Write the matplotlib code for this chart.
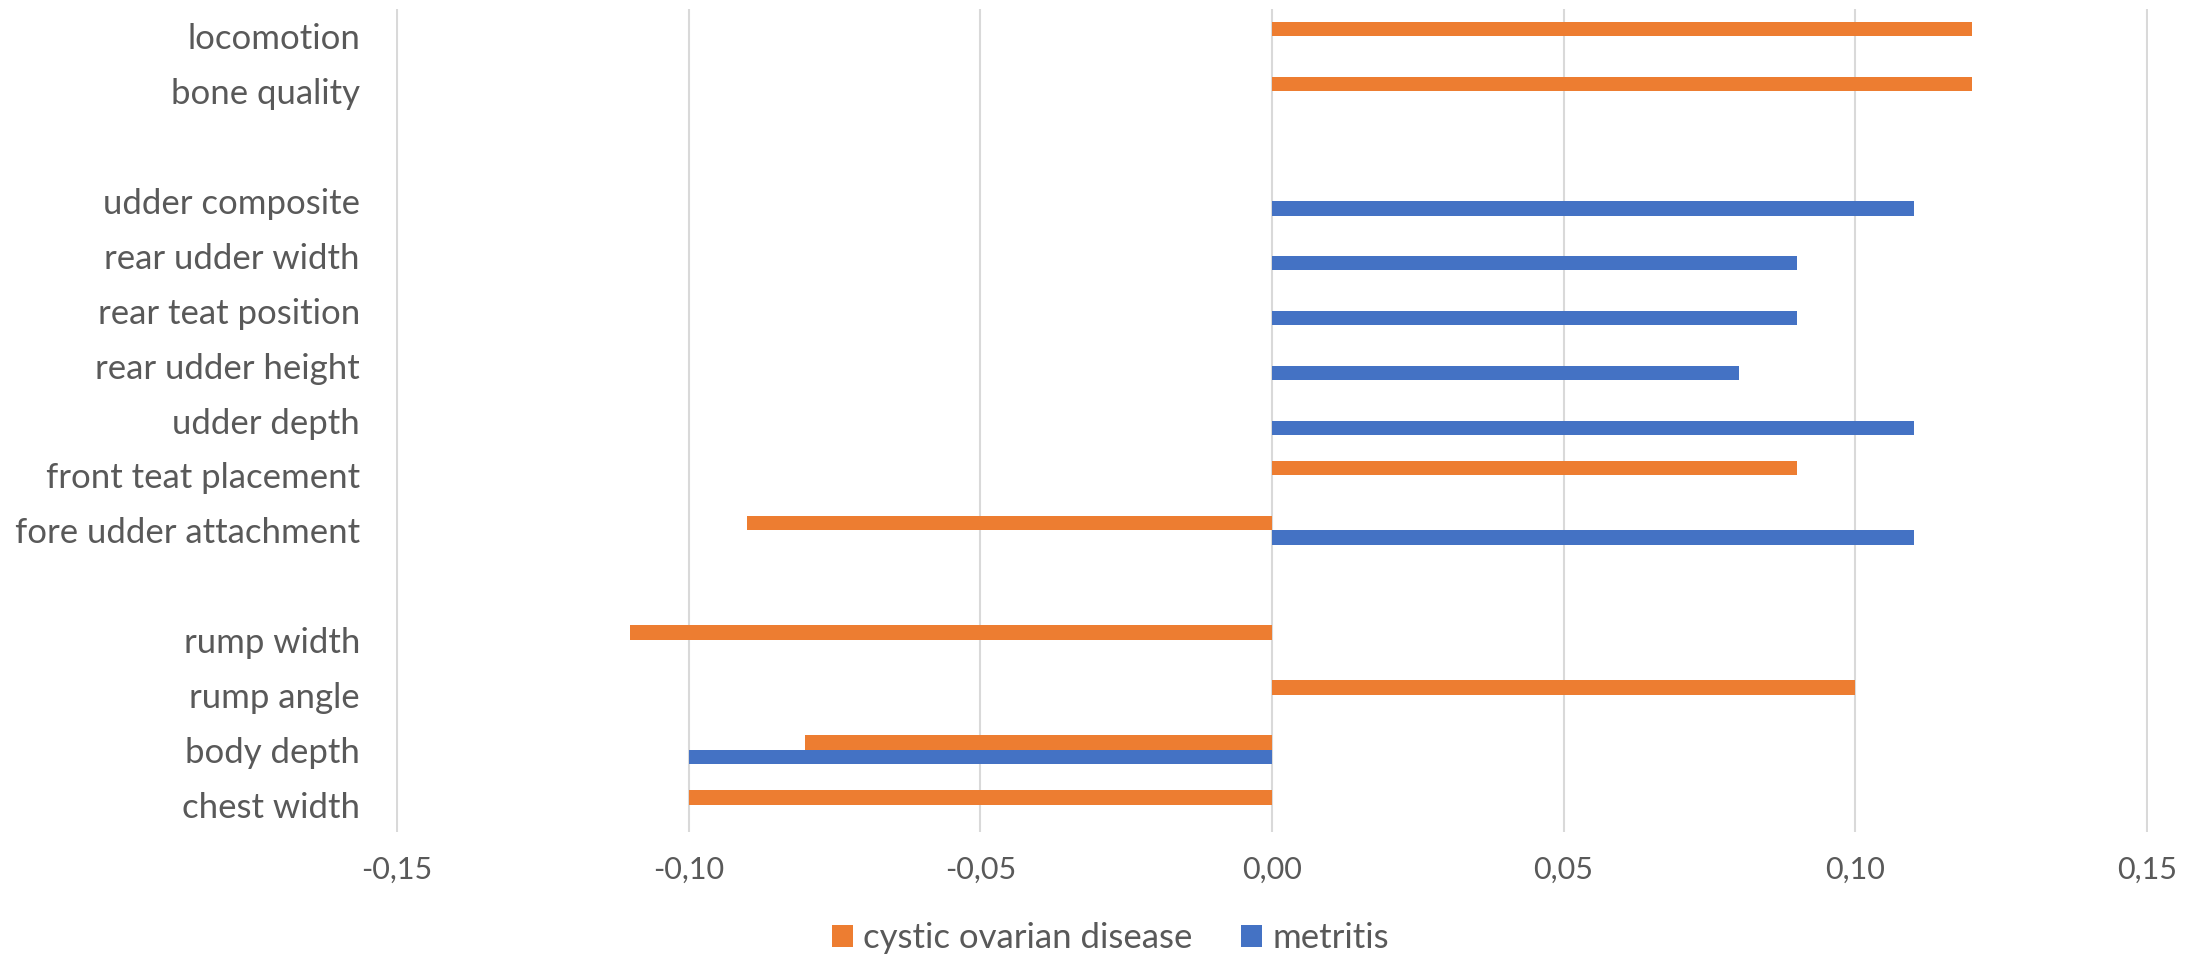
import numpy as np
import matplotlib
matplotlib.use("Agg")
import matplotlib.pyplot as plt

# Trait categories, top to bottom ('' = spacer rows)
categories = ['locomotion', 'bone quality', '',
              'udder composite', 'rear udder width', 'rear teat position',
              'rear udder height', 'udder depth', 'front teat placement',
              'fore udder attachment', '',
              'rump width', 'rump angle', 'body depth', 'chest width']

cystic = [0.12, 0.12, None,
          None, None, None, None, None, 0.09, -0.09, None,
          -0.11, 0.10, -0.08, -0.10]
metritis = [None, None, None,
            0.11, 0.09, 0.09, 0.08, 0.11, None, 0.11, None,
            None, None, -0.10, None]

x_ticks = [-0.15, -0.10, -0.05, 0.0, 0.05, 0.10, 0.15]
x_labels = ['-0,15', '-0,10', '-0,05', '0,00', '0,05', '0,10', '0,15']

ORANGE = '#ED7D31'
BLUE = '#4472C4'
TEXT = '#595959'
GRID = '#D9D9D9'

plt.rcParams['font.family'] = ['Lato', 'DejaVu Sans']

fig = plt.figure(figsize=(22.03, 9.56), dpi=100)
ax = fig.add_axes([396 / 2203, 1 - 832 / 956, (2148 - 396) / 2203, (832 - 9) / 956])

y = np.arange(len(categories))
h = 0.266
cy = np.array([np.nan if v is None else v for v in cystic], dtype=float)
my = np.array([np.nan if v is None else v for v in metritis], dtype=float)

ax.barh(y - h / 2, cy, height=h, color=ORANGE, label='cystic ovarian disease', zorder=3)
ax.barh(y + h / 2, my, height=h, color=BLUE, label='metritis', zorder=3)

ax.set_ylim(len(categories) - 0.5, -0.5)
ax.set_yticks(y)
ax.set_yticklabels(categories)
ax.set_xticks(x_ticks)
ax.set_xticklabels(x_labels)

ax.grid(axis='x', color=GRID, linewidth=1.5, zorder=0)
ax.set_axisbelow(True)
for s in ax.spines.values():
    s.set_visible(False)
ax.tick_params(axis='y', length=0, pad=26, labelsize=25, labelcolor=TEXT)
ax.tick_params(axis='x', length=0, pad=17, labelsize=22, labelcolor=TEXT)
# keep outer gridlines visible at the limits
ax.set_xlim(-0.1502, 0.1502)

fig.legend(loc='center', bbox_to_anchor=(0.504, 1 - 938 / 956), ncol=2,
           frameon=False, fontsize=25, labelcolor=TEXT,
           handlelength=0.6, handleheight=0.6, handletextpad=0.3,
           columnspacing=1.4, borderaxespad=0)

fig.savefig('out.png', dpi=100)
